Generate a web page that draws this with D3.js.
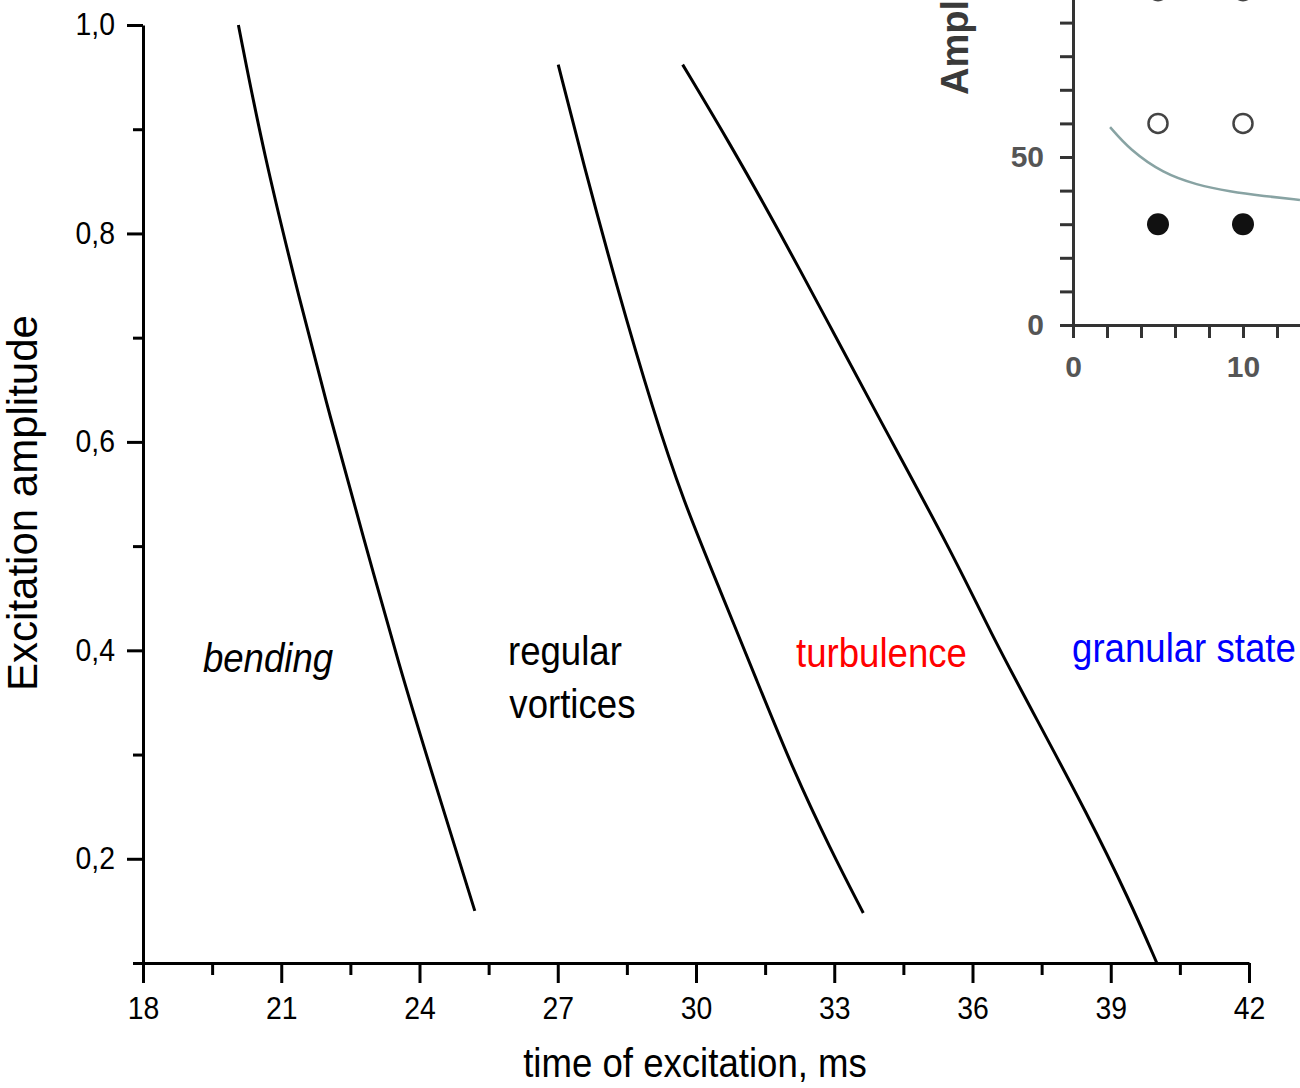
<!DOCTYPE html>
<html>
<head>
<meta charset="utf-8">
<script src="https://cdn.jsdelivr.net/npm/d3@7"></script>
<style>
  body { margin: 0; background: #fff; }
  svg { display: block; font-family: 'Liberation Sans', Arial, sans-serif; }
</style>
</head>
<body>
<script>
// boundary lines (time in ms, amplitude)
const bendingX = [20.07, 20.61, 21.41, 22.06, 22.78, 23.58, 24.23, 25.20];
const bendingY = [1.0, 0.878, 0.734, 0.624, 0.509, 0.382, 0.288, 0.150];
const vorticesX = [27.01, 27.55, 28.28, 29.07, 29.72, 30.52, 31.32, 32.11, 32.92, 33.63];
const vorticesY = [0.962, 0.868, 0.749, 0.630, 0.544, 0.458, 0.371, 0.285, 0.209, 0.148];
const turbulenceX = [29.71, 30.74, 31.82, 32.91, 33.92, 35.58, 36.38, 37.39, 38.48, 39.42, 40.0];
const turbulenceY = [0.962, 0.886, 0.801, 0.711, 0.627, 0.492, 0.418, 0.334, 0.244, 0.159, 0.1];

const xTicks = [18, 21, 24, 27, 30, 33, 36, 39, 42];
const xMinor = [19.5, 22.5, 25.5, 28.5, 31.5, 34.5, 37.5, 40.5];
const yTicks = [0.2, 0.4, 0.6, 0.8, 1.0];
const yMinor = [0.1, 0.3, 0.5, 0.7, 0.9];

const regionLabels = ['bending', 'regular', 'vortices', 'turbulence', 'granular state'];

// piece of the other figure pasted in the top right corner
const insetCurveX = [2.18, 3.35, 5.31, 7.27, 9.24, 11.2, 13.35];
const insetCurveY = [58.9, 52.1, 45.1, 41.7, 39.7, 38.4, 37.2];
const insetOpenX = [5, 10, 5, 10];
const insetOpenY = [60, 60, 99.5, 99.5];
const insetFilledX = [5, 10];
const insetFilledY = [30, 30];
const insetXTicks = [0, 2, 4, 6, 8, 10, 12, 14];
const insetYTicks = [0, 10, 20, 30, 40, 50, 60, 70, 80, 90, 100];

const squeeze = 0.915;

const svg = d3.select('body').append('svg')
    .attr('width', 1300)
    .attr('height', 1088);

const x = d3.scaleLinear().domain([18, 42]).range([143, 1249]);
const y = d3.scaleLinear().domain([0.1, 1.0]).range([963, 25]);

const styleAxis = g => {
    g.selectAll('line, path').attr('stroke', '#000').attr('stroke-width', 3);
    g.selectAll('text').attr('fill', '#000').attr('font-size', 31).attr('font-family', null);
};

// x axis
svg.append('g')
    .attr('transform', 'translate(0,963)')
    .call(d3.axisBottom(x).tickValues(xTicks).tickSize(20).tickSizeOuter(0).tickPadding(14).tickFormat(d3.format('d')))
    .call(styleAxis)
    .call(g => g.selectAll('text').attr('transform', `scale(${squeeze},1)`));
svg.append('g')
    .attr('transform', 'translate(0,963)')
    .call(d3.axisBottom(x).tickValues(xMinor).tickSize(12).tickFormat(''))
    .call(g => g.select('.domain').remove())
    .call(styleAxis);

// y axis
svg.append('g')
    .attr('transform', 'translate(143,0)')
    .call(d3.axisLeft(y).tickValues(yTicks).tickSize(16).tickSizeOuter(0).tickPadding(12)
        .tickFormat(d => d.toFixed(1).replace('.', ',')))
    .call(styleAxis)
    .call(g => g.selectAll('text')
        .attr('x', -28 / squeeze)
        .attr('transform', `scale(${squeeze},1)`));
svg.append('g')
    .attr('transform', 'translate(143,0)')
    .call(d3.axisLeft(y).tickValues(yMinor).tickSize(10).tickFormat(''))
    .call(g => g.select('.domain').remove())
    .call(styleAxis);

// axis titles
svg.append('text')
    .attr('transform', `translate(695,1077) scale(${squeeze},1)`)
    .attr('text-anchor', 'middle')
    .attr('font-size', 40)
    .text('time of excitation, ms');
svg.append('text')
    .attr('transform', 'translate(37,503) rotate(-90)')
    .attr('text-anchor', 'middle')
    .attr('font-size', 42)
    .text('Excitation amplitude');

// boundaries
const line = d3.line()
    .x(d => x(d[0]))
    .y(d => y(d[1]))
    .curve(d3.curveBasis);
[d3.zip(bendingX, bendingY), d3.zip(vorticesX, vorticesY), d3.zip(turbulenceX, turbulenceY)]
    .forEach(pts => {
        svg.append('path')
            .attr('d', line(pts))
            .attr('fill', 'none')
            .attr('stroke', '#000')
            .attr('stroke-width', 3);
    });

// region names
const putLabel = (text, tx, ty, color, italic) => {
    svg.append('text')
        .attr('transform', `translate(${x(tx)},${y(ty)}) scale(${squeeze},1)`)
        .attr('font-size', 40)
        .attr('font-style', italic ? 'italic' : null)
        .attr('fill', color)
        .text(text);
};
putLabel(regionLabels[0], 19.30, 0.379, '#000', true);
putLabel(regionLabels[1], 25.92, 0.386, '#000');
putLabel(regionLabels[2], 25.95, 0.335, '#000');
putLabel(regionLabels[3], 32.17, 0.384, '#ff0000');
putLabel(regionLabels[4], 38.16, 0.389, '#0000ff');

// inset
const ix = d3.scaleLinear().domain([0, 10]).range([1073, 1243]);
const iy = d3.scaleLinear().domain([0, 50]).range([325, 157]);
const inset = svg.append('g').attr('class', 'inset');

const styleInset = g => {
    g.selectAll('line, path').attr('stroke', '#333').attr('stroke-width', 3);
    g.selectAll('text').attr('fill', '#555').attr('font-size', 30).attr('font-weight', 'bold').attr('font-family', null);
};
inset.append('g')
    .attr('transform', 'translate(0,325)')
    .call(d3.axisBottom(ix).tickValues(insetXTicks).tickSize(13).tickSizeOuter(0).tickPadding(18)
        .tickFormat(d => (d === 0 || d === 10) ? d : ''))
    .call(styleInset)
    .call(g => g.select('.domain').attr('d', `M${ix(0) - 13},0.5H1300`));
inset.append('g')
    .attr('transform', 'translate(1073,0)')
    .call(d3.axisLeft(iy).tickValues(insetYTicks).tickSize(13).tickSizeOuter(0).tickPadding(16)
        .tickFormat(d => (d === 0 || d === 50) ? d : ''))
    .call(styleInset)
    .call(g => g.select('.domain').attr('d', `M0.5,0V${iy(0) + 13}`));

inset.append('text')
    .attr('transform', 'translate(968,95) rotate(-90)')
    .attr('font-size', 38)
    .attr('font-weight', 'bold')
    .attr('fill', '#3a3a3a')
    .text('Ampl');

inset.append('path')
    .attr('d', d3.line().x(d => ix(d[0])).y(d => iy(d[1])).curve(d3.curveBasis)(d3.zip(insetCurveX, insetCurveY)))
    .attr('fill', 'none')
    .attr('stroke', '#88a3a3')
    .attr('stroke-width', 2.5);

inset.selectAll('circle.open')
    .data(d3.zip(insetOpenX, insetOpenY))
    .enter()
    .append('circle')
    .attr('class', 'open')
    .attr('cx', d => ix(d[0]))
    .attr('cy', d => iy(d[1]))
    .attr('r', 9.5)
    .attr('fill', '#fff')
    .attr('stroke', '#444')
    .attr('stroke-width', 2.5);
inset.selectAll('circle.filled')
    .data(d3.zip(insetFilledX, insetFilledY))
    .enter()
    .append('circle')
    .attr('class', 'filled')
    .attr('cx', d => ix(d[0]))
    .attr('cy', d => iy(d[1]))
    .attr('r', 11)
    .attr('fill', '#111');
</script>
</body>
</html>
